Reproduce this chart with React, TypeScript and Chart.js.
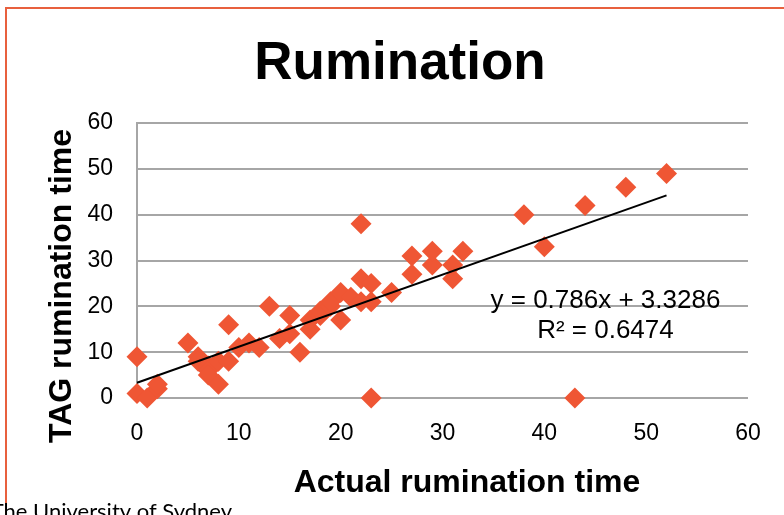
import React, { useEffect, useRef } from "react";
import { Chart, registerables } from "chart.js";

Chart.register(...registerables);

// ---- data ----
const actualTime = [
  0, 0, 1, 2, 2,
  5, 6, 6, 7, 7, 7, 8, 8, 9, 9,
  10, 11, 12, 13, 14, 15, 15, 16,
  17, 17, 18, 18, 19, 19, 20, 20, 21, 22, 22, 22, 23, 23, 23, 25,
  27, 27, 29, 29, 31, 31, 32, 38, 40, 43, 44, 48, 52,
];
const tagTime = [
  9, 1, 0, 2, 3,
  12, 9, 8, 7, 6, 5, 3, 8, 8, 16,
  11, 12, 11, 20, 13, 14, 18, 10,
  15, 17, 18, 19, 20, 21, 17, 23, 22, 21, 26, 38, 25, 21, 0, 23,
  27, 31, 29, 32, 26, 29, 32, 40, 33, 0, 42, 46, 49,
];
const xTicks = [0, 10, 20, 30, 40, 50, 60];
const yTicks = [0, 10, 20, 30, 40, 50, 60];
const trendSlope = 0.786;
const trendIntercept = 3.3286;
const rSquared = "0.6474";

const TITLE = "Rumination";
const X_TITLE = "Actual rumination time";
const Y_TITLE = "TAG rumination time";
const EQUATION = "y = 0.786x + 3.3286";
const R2_TEXT = "R\u00B2 = " + rSquared;
const FOOTER = "The University of Sydney";

// ---- styles ----
const MARKER = "#ef5634";
const GRID = "#a6a6a6";
const FRAME = "#e8603e";
const FONT = '"Liberation Sans", Arial, sans-serif';

const decor = {
  id: "decor",
  beforeDraw(chart: any) {
    const ctx = chart.ctx;
    ctx.save();
    ctx.fillStyle = "#fff";
    ctx.fillRect(0, 0, chart.width, chart.height);
    ctx.strokeStyle = FRAME;
    ctx.lineWidth = 2;
    ctx.beginPath();
    ctx.moveTo(6, chart.height);
    ctx.lineTo(6, 8);
    ctx.lineTo(chart.width, 8);
    ctx.stroke();
    ctx.restore();
  },
  afterDraw(chart: any) {
    const ctx = chart.ctx;
    const xs = chart.scales.x;
    const ys = chart.scales.y;
    ctx.save();
    ctx.fillStyle = "#000";
    ctx.textBaseline = "alphabetic";
    ctx.textAlign = "center";
    ctx.font = `bold 53px ${FONT}`;
    ctx.fillText(TITLE, 400, 79);
    ctx.font = `bold 32px ${FONT}`;
    ctx.fillText(X_TITLE, 467, 492);
    ctx.save();
    ctx.translate(71, 286);
    ctx.rotate(-Math.PI / 2);
    ctx.fillText(Y_TITLE, 0, 0);
    ctx.restore();
    ctx.font = `26px ${FONT}`;
    const ex = xs.getPixelForValue(46.0);
    ctx.fillText(EQUATION, ex, ys.getPixelForValue(19.6));
    ctx.fillText(R2_TEXT, ex, ys.getPixelForValue(13.0));
    ctx.textAlign = "right";
    ctx.font = `22px Lato, "Open Sans", sans-serif`;
    ctx.fillText(FOOTER, 232, 519);
    ctx.restore();
  },
};

export default function App() {
  const ref = useRef<HTMLCanvasElement>(null);

  useEffect(() => {
    if (!ref.current) return;
    const points = actualTime.map((x, i) => ({ x, y: tagTime[i] }));
    const xMin = Math.min(...actualTime);
    const xMax = Math.max(...actualTime);
    const trend = [
      { x: xMin, y: trendSlope * xMin + trendIntercept },
      { x: xMax, y: trendSlope * xMax + trendIntercept },
    ];
    const chart = new Chart(ref.current, {
      type: "scatter",
      data: {
        datasets: [
          {
            type: "line",
            data: trend,
            borderColor: "#000",
            borderWidth: 2,
            pointRadius: 0,
            fill: false,
            clip: false,
          } as any,
          {
            data: points,
            pointStyle: "rectRot",
            pointRadius: 10.5,
            backgroundColor: MARKER,
            borderWidth: 0,
            clip: false,
          } as any,
        ],
      },
      options: {
        animation: false,
        responsive: false,
        events: [],
        layout: { padding: { top: 123, right: 36, bottom: 0, left: 0 } },
        plugins: {
          legend: { display: false },
          title: { display: false },
          tooltip: { enabled: false },
        },
        scales: {
          x: {
            type: "linear",
            min: xTicks[0],
            max: xTicks[xTicks.length - 1],
            afterBuildTicks: (s: any) => {
              s.ticks = xTicks.map((v) => ({ value: v }));
            },
            afterFit: (s: any) => {
              s.height = 117;
            },
            grid: { display: false, drawTicks: false },
            border: { display: false },
            ticks: {
              color: "#000",
              font: { family: FONT, size: 23 },
              padding: 22,
            },
          },
          y: {
            type: "linear",
            min: yTicks[0],
            max: yTicks[yTicks.length - 1],
            afterBuildTicks: (s: any) => {
              s.ticks = yTicks.map((v) => ({ value: v }));
            },
            afterFit: (s: any) => {
              s.width = 137;
            },
            grid: { color: GRID, lineWidth: 2, drawTicks: false },
            border: { display: true, color: GRID, width: 2 },
            ticks: {
              color: "#000",
              font: { family: FONT, size: 23 },
              padding: 24,
            },
          },
        },
      },
      plugins: [decor],
    });
    return () => chart.destroy();
  }, []);

  return (
    <div style={{ position: "fixed", left: 0, top: 0, width: 784, height: 515, background: "#fff" }}>
      <canvas ref={ref} width={784} height={515} style={{ display: "block" }} />
    </div>
  );
}
